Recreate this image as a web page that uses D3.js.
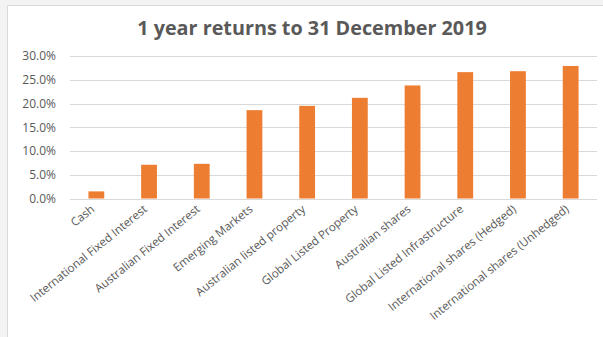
<!DOCTYPE html>
<html>
<head>
<meta charset="utf-8">
<script src="https://cdn.jsdelivr.net/npm/d3@7"></script>
<style>
  body { margin: 0; background: #f3f3f3; }
  svg { display: block; }
  text { font-family: "Open Sans", sans-serif; }
</style>
</head>
<body>
<div id="chart"></div>
<script>
// data
const categories = ["Cash", "International Fixed Interest", "Australian Fixed Interest",
  "Emerging Markets", "Australian listed property", "Global Listed Property",
  "Australian shares", "Global Listed Infrastructure", "International shares (Hedged)",
  "International shares (Unhedged)"];
const returns = [1.5, 7.1, 7.3, 18.6, 19.5, 21.2, 23.8, 26.6, 26.8, 27.9];
const yTicks = [0, 5, 10, 15, 20, 25, 30];

const width = 603, height = 337;
const margins = {top: 56, right: 6, bottom: 138.5, left: 70};

const svg = d3.select("#chart").append("svg")
    .attr("width", width)
    .attr("height", height);

// white chart card
svg.append("rect")
    .attr("x", 7.5).attr("y", 5.5)
    .attr("width", width).attr("height", height)
    .attr("fill", "#fff")
    .attr("stroke", "#dadada");

const xScale = d3.scaleBand()
    .domain(categories)
    .range([margins.left, width - margins.right])
    .paddingInner(0.7)
    .paddingOuter(0.35);

const yScale = d3.scaleLinear()
    .domain([0, 30])
    .range([height - margins.bottom, margins.top]);

// gridlines
svg.selectAll("line.grid")
    .data(yTicks)
    .join("line")
    .attr("class", "grid")
    .attr("x1", margins.left)
    .attr("x2", width - margins.right)
    .attr("y1", d => Math.round(yScale(d)) + 0.5)
    .attr("y2", d => Math.round(yScale(d)) + 0.5)
    .attr("stroke", "#d9d9d9")
    .attr("stroke-width", 1.2);

// y axis labels
const yAxis = svg.append("g")
    .attr("transform", `translate(${margins.left}, 0)`)
    .call(d3.axisLeft(yScale).tickValues(yTicks).tickSize(0).tickPadding(14)
        .tickFormat(d => d.toFixed(1) + "%"));
yAxis.select(".domain").remove();
yAxis.selectAll("text")
    .attr("fill", "#595959")
    .style("font-size", "12px");

// bars
svg.selectAll("rect.bar")
    .data(returns)
    .join("rect")
    .attr("class", "bar")
    .attr("x", (d, i) => xScale(categories[i]))
    .attr("y", d => yScale(d))
    .attr("width", xScale.bandwidth())
    .attr("height", d => yScale(0) - yScale(d))
    .attr("fill", "#ed7d31");

// rotated category labels
svg.selectAll("text.cat")
    .data(categories)
    .join("text")
    .attr("class", "cat")
    .attr("transform", d => `translate(${xScale(d) + xScale.bandwidth() / 2 - 1}, ${yScale(0) + 12}) rotate(-39)`)
    .attr("text-anchor", "end")
    .attr("fill", "#595959")
    .style("font-size", "11.6px")
    .text(d => d);

// title
svg.append("text")
    .attr("x", 312)
    .attr("y", 35)
    .attr("text-anchor", "middle")
    .attr("fill", "#595959")
    .style("font-size", "19.8px")
    .style("font-weight", "bold")
    .text("1 year returns to 31 December 2019");
</script>
</body>
</html>
